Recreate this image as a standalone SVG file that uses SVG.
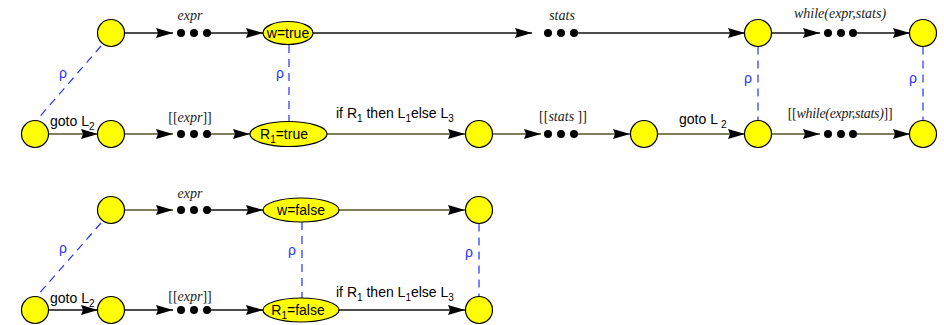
<svg xmlns="http://www.w3.org/2000/svg" width="944" height="325" viewBox="0 0 944 325">
<defs>
<style>
.c{fill:#ffff00;stroke:#000;stroke-width:1.2}
.d{fill:#000}
.l{fill:none;stroke:#111;stroke-width:1.3;marker-end:url(#ah)}
.o{fill:none;stroke:#55552a;stroke-width:1.3;marker-end:url(#ah)}
.r{fill:none;stroke:#2233ff;stroke-width:1.2;stroke-dasharray:8,6}
.t{font-family:"Liberation Sans",Arial,sans-serif;font-size:14px;fill:#000}
.i{font-family:"Liberation Serif","Times New Roman",serif;font-size:14px;font-style:italic;fill:#222}
.b{font-family:"Liberation Serif","Times New Roman",serif;font-size:14px;fill:#222}
.p{font-family:"Liberation Sans",Arial,sans-serif;font-size:14px;fill:#2233ff}
.s{font-size:10px}
</style>
<marker id="ah" markerUnits="userSpaceOnUse" markerWidth="18" markerHeight="11" refX="17" refY="5" orient="auto">
<path d="M0,0 L17,5 L0,10 L2,5 z" fill="#000"/>
</marker>
</defs>

<g id="connectors">
<!-- row 1 -->
<line class="l" x1="124.5" y1="33" x2="173" y2="33"/>
<line class="l" x1="211" y1="33" x2="263" y2="33"/>
<line class="l" x1="313" y1="33" x2="532" y2="33"/>
<line class="l" x1="578" y1="33" x2="745" y2="33"/>
<line class="l" x1="771.5" y1="33" x2="820" y2="33"/>
<line class="l" x1="857" y1="33" x2="910" y2="33"/>
<!-- row 2 -->
<line class="o" x1="48.5" y1="134" x2="98" y2="134"/>
<line class="o" x1="124.5" y1="134" x2="173" y2="134"/>
<line class="o" x1="211" y1="134" x2="250" y2="134"/>
<line class="o" x1="327" y1="134" x2="465" y2="134"/>
<line class="o" x1="492.5" y1="134" x2="541" y2="134"/>
<line class="o" x1="578" y1="134" x2="630" y2="134"/>
<line class="o" x1="657.5" y1="134" x2="745" y2="134"/>
<line class="o" x1="771.5" y1="134" x2="820" y2="134"/>
<line class="o" x1="857" y1="134" x2="910" y2="134"/>
<!-- row 3 -->
<line class="o" x1="124.5" y1="210" x2="173" y2="210"/>
<line class="l" x1="211" y1="210" x2="263" y2="210"/>
<line class="o" x1="339" y1="210" x2="465" y2="210"/>
<!-- row 4 -->
<line class="l" x1="48.5" y1="310" x2="98" y2="310"/>
<line class="l" x1="124.5" y1="310" x2="173" y2="310"/>
<line class="l" x1="211" y1="310" x2="263" y2="310"/>
<line class="l" x1="339" y1="310" x2="465" y2="310"/>
<!-- rho relations -->
<line class="r" x1="101" y1="46" x2="36" y2="121"/>
<line class="r" x1="289" y1="45" x2="289" y2="121.5"/>
<line class="r" x1="758" y1="46.5" x2="758" y2="120.5"/>
<line class="r" x1="923" y1="46.5" x2="923" y2="120.5"/>
<line class="r" x1="101" y1="223" x2="36" y2="297"/>
<line class="r" x1="302" y1="222" x2="302" y2="298"/>
<line class="r" x1="479" y1="223.5" x2="479" y2="296.5"/>
<!-- labels -->
<text class="i" x="190" y="20" text-anchor="middle">expr</text>
<text class="i" x="562" y="20" text-anchor="middle">stats</text>
<text class="i" x="840" y="18" text-anchor="middle">while(expr,stats)</text>
<text class="t" x="50" y="126">goto L<tspan class="s" dy="4">2</tspan></text>
<text class="b" x="190" y="122" text-anchor="middle">[[<tspan class="i">expr</tspan>]]</text>
<text class="t" x="336" y="118">if R<tspan class="s" dy="4">1</tspan><tspan dy="-4"> then L</tspan><tspan class="s" dy="4">1</tspan><tspan dy="-4">else L</tspan><tspan class="s" dy="4">3</tspan></text>
<text class="b" x="563" y="121" text-anchor="middle">[[<tspan class="i">stats</tspan> ]]</text>
<text class="t" x="679" y="124">goto L<tspan class="s" dx="3" dy="4">2</tspan></text>
<text class="b" x="840" y="118" text-anchor="middle" letter-spacing="-0.3">[[<tspan class="i">while(expr,stats)</tspan>]]</text>
<text class="i" x="190" y="198" text-anchor="middle">expr</text>
<text class="t" x="50" y="303">goto L<tspan class="s" dy="4">2</tspan></text>
<text class="b" x="190" y="301" text-anchor="middle">[[<tspan class="i">expr</tspan>]]</text>
<text class="t" x="336" y="297">if R<tspan class="s" dy="4">1</tspan><tspan dy="-4"> then L</tspan><tspan class="s" dy="4">1</tspan><tspan dy="-4">else L</tspan><tspan class="s" dy="4">3</tspan></text>
<text class="p" x="63" y="78" text-anchor="middle">ρ</text>
<text class="p" x="280" y="78" text-anchor="middle">ρ</text>
<text class="p" x="748" y="83" text-anchor="middle">ρ</text>
<text class="p" x="913" y="83" text-anchor="middle">ρ</text>
<text class="p" x="63" y="253" text-anchor="middle">ρ</text>
<text class="p" x="292" y="255" text-anchor="middle">ρ</text>
<text class="p" x="469" y="257" text-anchor="middle">ρ</text>
</g>

<!-- row 1 nodes -->
<g id="n1a"><circle class="c" cx="111" cy="33" r="13.5"/></g>
<g id="n1b"><circle class="d" cx="181" cy="33" r="4"/><circle class="d" cx="194" cy="33" r="4"/><circle class="d" cx="207" cy="33" r="4"/></g>
<g id="n1c"><ellipse class="c" cx="288" cy="33" rx="25" ry="11.5"/><text class="t" x="288" y="38" text-anchor="middle">w=true</text></g>
<g id="n1d"><circle class="d" cx="548" cy="33" r="4"/><circle class="d" cx="561" cy="33" r="4"/><circle class="d" cx="574" cy="33" r="4"/></g>
<g id="n1e"><circle class="c" cx="758" cy="33" r="13.5"/></g>
<g id="n1f"><circle class="d" cx="828" cy="33" r="4"/><circle class="d" cx="841" cy="33" r="4"/><circle class="d" cx="853" cy="33" r="4"/></g>
<g id="n1g"><circle class="c" cx="923" cy="33" r="13.5"/></g>

<!-- row 2 nodes -->
<g id="n2a"><circle class="c" cx="35" cy="134" r="13.5"/></g>
<g id="n2b"><circle class="c" cx="111" cy="134" r="13.5"/></g>
<g id="n2c"><circle class="d" cx="181" cy="134" r="4"/><circle class="d" cx="194" cy="134" r="4"/><circle class="d" cx="207" cy="134" r="4"/></g>
<g id="n2d"><ellipse class="c" cx="288.5" cy="134" rx="38.5" ry="12.5"/><text class="t" x="284" y="139" text-anchor="middle">R<tspan class="s" dy="4">1</tspan><tspan dy="-4">=true</tspan></text></g>
<g id="n2e"><circle class="c" cx="479" cy="134" r="13.5"/></g>
<g id="n2f"><circle class="d" cx="548" cy="134" r="4"/><circle class="d" cx="561" cy="134" r="4"/><circle class="d" cx="574" cy="134" r="4"/></g>
<g id="n2g"><circle class="c" cx="644" cy="134" r="13.5"/></g>
<g id="n2h"><circle class="c" cx="758" cy="134" r="13.5"/></g>
<g id="n2i"><circle class="d" cx="828" cy="134" r="4"/><circle class="d" cx="841" cy="134" r="4"/><circle class="d" cx="853" cy="134" r="4"/></g>
<g id="n2j"><circle class="c" cx="923" cy="134" r="13.5"/></g>

<!-- row 3 nodes -->
<g id="n3a"><circle class="c" cx="111" cy="210" r="13.5"/></g>
<g id="n3b"><circle class="d" cx="181" cy="210" r="4"/><circle class="d" cx="194" cy="210" r="4"/><circle class="d" cx="207" cy="210" r="4"/></g>
<g id="n3c"><ellipse class="c" cx="301" cy="210" rx="38" ry="12"/><text class="t" x="301" y="215" text-anchor="middle">w=false</text></g>
<g id="n3d"><circle class="c" cx="479" cy="210" r="13.5"/></g>

<!-- row 4 nodes -->
<g id="n4a"><circle class="c" cx="35" cy="310" r="13.5"/></g>
<g id="n4b"><circle class="c" cx="111" cy="310" r="13.5"/></g>
<g id="n4c"><circle class="d" cx="181" cy="310" r="4"/><circle class="d" cx="194" cy="310" r="4"/><circle class="d" cx="207" cy="310" r="4"/></g>
<g id="n4d"><ellipse class="c" cx="301" cy="310" rx="38" ry="12"/><text class="t" x="298" y="315" text-anchor="middle">R<tspan class="s" dy="4">1</tspan><tspan dy="-4">=false</tspan></text></g>
<g id="n4e"><circle class="c" cx="479" cy="310" r="13.5"/></g>
</svg>
